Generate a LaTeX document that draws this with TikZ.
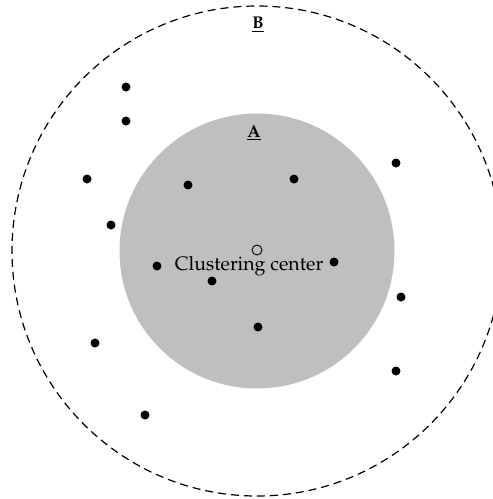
\documentclass[tikz,border=0pt]{standalone}
\usepackage[T1]{fontenc}
\usepackage{mathpazo}
\usepackage{tikz}

\begin{document}
\begin{tikzpicture}[x=1pt,y=-1pt,
  sample/.style={circle,fill=black,inner sep=0pt,minimum size=9pt},
  centre/.style={circle,draw=black,line width=0.9pt,fill=none,inner sep=0pt,minimum size=10pt}]
\useasboundingbox(0,0)rectangle(493,499);
\clip(0,0)rectangle(493,499);
\draw[dashed,line width=1.2pt,dash pattern=on 8pt off 5pt](257,251)circle(245);
\fill[black!25](257,251)circle(137.5);
\node(labB)at(258,25){\fontsize{17}{20}\selectfont\textbf{\underline{B}}};
\node(labA)at(254,133){\fontsize{17}{20}\selectfont\textbf{\underline{A}}};
\node[centre](c)at(257,250){};
\node(clab)at(249,266){\fontsize{19.5}{23}\selectfont Clustering center};
% samples
\foreach \px/\py[count=\i] in {126/87,126/121,87/179,188/185,294/179,396/163,111/225,
  157/266,212/281,334/262,401/297,258/327,95/343,396/371,145/415}
  \node[sample](s\i)at(\px,\py){};
\end{tikzpicture}
\end{document}
